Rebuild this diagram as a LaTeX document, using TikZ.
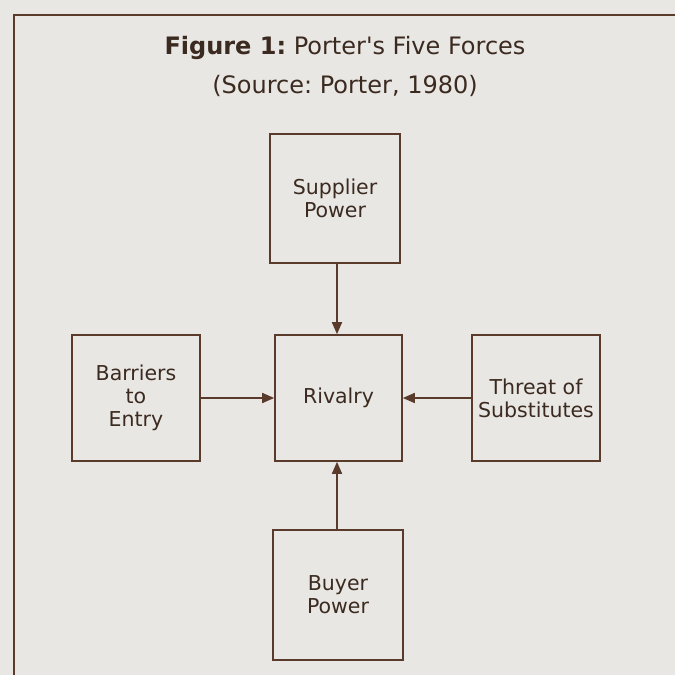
\documentclass[tikz,border=0pt]{standalone}
\usepackage{fontspec}
\setmainfont{DejaVu Sans}
\usetikzlibrary{arrows.meta}
\definecolor{paper}{HTML}{E9E7E3}
\definecolor{ink}{HTML}{5A3A2B}
\definecolor{type}{HTML}{3B2A20}
\frenchspacing
\tikzset{
  force/.style={draw=ink, line width=1.6pt, fill=none, text=type, align=center,
    font=\fontsize{20.5}{23}\selectfont, inner sep=0pt},
  arr/.style={draw=ink, line width=1.6pt, -{Triangle[length=12pt,width=10pt]}},
  caption/.style={text=type, font=\fontsize{24}{28}\selectfont, inner sep=0pt}
}
\begin{document}
\begin{tikzpicture}[x=1pt,y=-1pt]
  \useasboundingbox (0,0) rectangle (675,675);
  \fill[paper] (0,0) rectangle (675,675);
  \clip (0,0) rectangle (675,675);
  % page frame around the figure
  \draw[ink, line width=2pt] (14,15) rectangle (720,720);
  % caption
  \node[caption] (title) at (345,48) {\textbf{Figure 1:} Porter\textquotesingle s Five Forces};
  \node[caption] (source) at (345,86) {(Source: Porter, 1980)};
  % the five forces
  \node[force, minimum width=130pt, minimum height=129pt] (sup) at (335,198.5) {Supplier\\Power};
  \node[force, minimum width=128pt, minimum height=126pt] (bar) at (136,398) {Barriers\\to\\Entry};
  \node[force, minimum width=127pt, minimum height=126pt] (riv) at (338.5,398) {Rivalry};
  \node[force, minimum width=128pt, minimum height=126pt] (thr) at (536,398) {Threat of\\Substitutes};
  \node[force, minimum width=130pt, minimum height=130pt] (buy) at (338,595) {Buyer\\Power};
  % influences acting on rivalry
  \draw[arr] (sup.south -| 337,0) -- (riv.north -| 337,0);
  \draw[arr] (buy.north -| 337,0) -- (riv.south -| 337,0);
  \draw[arr] (bar.east) -- (riv.west);
  \draw[arr] (thr.west) -- (riv.east);
\end{tikzpicture}
\end{document}
